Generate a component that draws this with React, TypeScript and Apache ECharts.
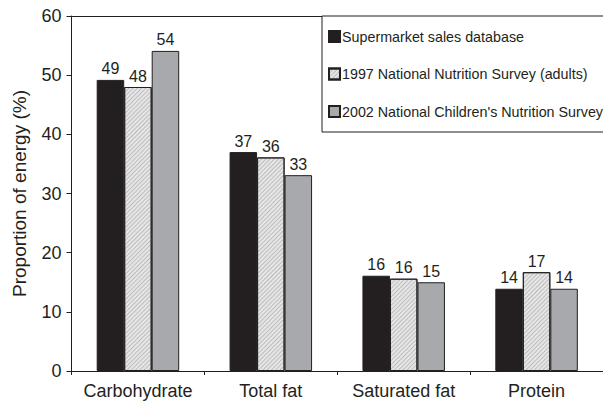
import React, { useEffect, useRef } from "react";
import * as echarts from "echarts";

const categories = ["Carbohydrate", "Total fat", "Saturated fat", "Protein"];
const seriesNames = [
  "Supermarket sales database",
  "1997 National Nutrition Survey (adults)",
  "2002 National Children's Nutrition Survey",
];
const supermarket = [49.2, 37, 16.1, 13.9];
const nns1997 = [48, 36.1, 15.6, 16.7];
const cnns2002 = [54.1, 33.1, 15, 13.9];
const yTicks = { min: 0, max: 60, interval: 10 };

const FONT = "'Liberation Sans', Arial, Helvetica, sans-serif";
const INK = "#231f20";

export default function App() {
  const ref = useRef<HTMLDivElement>(null);
  useEffect(() => {
    document.body.style.margin = "0";
    if (!ref.current) return;
    const chart = echarts.init(ref.current, undefined, { renderer: "svg" });
    const label = {
      show: true,
      position: "top" as const,
      distance: 3,
      fontSize: 16,
      color: INK,
      fontFamily: FONT,
      formatter: (p: any) => String(Math.round(p.value)),
    };
    const common = {
      type: "bar" as const,
      barWidth: 27.5,
      barGap: "0%",
      label,
    };
    chart.setOption({
      animation: false,
      textStyle: { fontFamily: FONT, color: INK },
      grid: { left: 71.5, top: 16, width: 536, height: 355 },
      legend: {
        orient: "vertical",
        left: 328,
        top: 29.5,
        padding: 0,
        itemWidth: 11,
        itemHeight: 11,
        itemGap: 23.5,
        icon: "rect",
        textStyle: { fontSize: 14.3, color: INK, fontFamily: FONT, padding: [0, 0, 0, -3] },
        data: seriesNames,
        z: 10,
      },
      graphic: [
        {
          type: "rect",
          z: 5,
          shape: { x: 322, y: 16, width: 300, height: 116 },
          style: { fill: "#fff", stroke: INK, lineWidth: 1 },
        },
      ],
      xAxis: [
        {
          type: "category",
          data: categories,
          axisLine: { lineStyle: { color: INK, width: 1 } },
          axisTick: { show: true, length: 4, lineStyle: { color: INK } },
          axisLabel: { fontSize: 18, color: INK, fontFamily: FONT, margin: 11, interval: 0 },
        },
        {
          type: "category",
          position: "top",
          data: categories,
          axisLine: { show: true, lineStyle: { color: INK, width: 1 } },
          axisTick: { show: false },
          axisLabel: { show: false },
        },
      ],
      yAxis: {
        type: "value",
        min: yTicks.min,
        max: yTicks.max,
        interval: yTicks.interval,
        name: "Proportion of energy (%)",
        nameLocation: "middle",
        nameGap: 43,
        nameTextStyle: { fontSize: 19, color: INK, fontFamily: FONT },
        axisLine: { show: true, lineStyle: { color: INK, width: 1 } },
        axisTick: { show: true, length: 5, lineStyle: { color: INK } },
        axisLabel: { fontSize: 18, color: INK, fontFamily: FONT, margin: 10 },
        splitLine: { show: false },
      },
      series: [
        {
          ...common,
          name: seriesNames[0],
          data: supermarket,
          itemStyle: { color: INK, borderColor: INK, borderWidth: 1 },
        },
        {
          ...common,
          name: seriesNames[1],
          data: nns1997,
          itemStyle: {
            color: "#e6e6e6",
            borderColor: INK,
            borderWidth: 1,
            decal: {
              symbol: "rect",
              symbolSize: 1,
              dashArrayX: [1, 0],
              dashArrayY: [1, 2],
              rotation: -Math.PI / 4,
              color: "rgba(140,140,140,0.45)",
            },
          },
        },
        {
          ...common,
          name: seriesNames[2],
          data: cnns2002,
          itemStyle: { color: "#a7a9ac", borderColor: INK, borderWidth: 1 },
        },
      ],
    });
    return () => chart.dispose();
  }, []);
  return <div ref={ref} style={{ width: 603, height: 407 }} />;
}
